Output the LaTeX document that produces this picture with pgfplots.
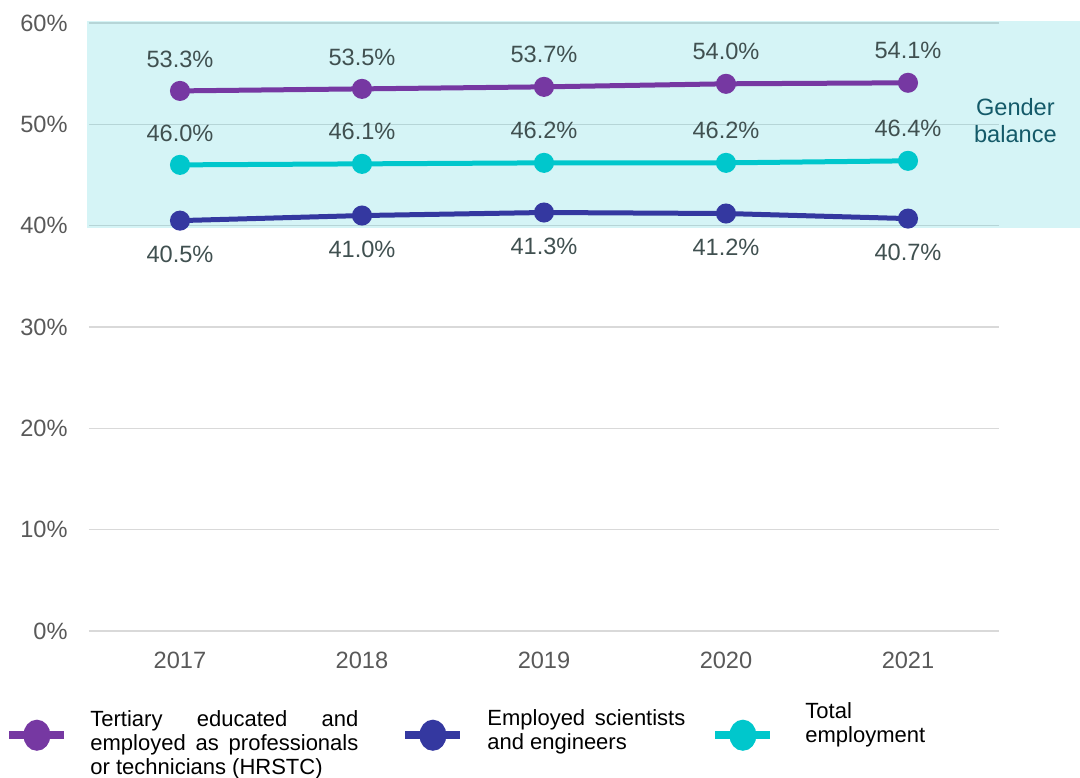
\documentclass[border=0pt]{standalone}
\usepackage{fontspec}
\setmainfont{Liberation Sans}
\usepackage{pgfplots}
\pgfplotsset{compat=1.18}
\definecolor{cPur}{RGB}{118,56,162}
\definecolor{cBlu}{RGB}{52,56,160}
\definecolor{cCya}{RGB}{0,199,204}
\definecolor{cShade}{RGB}{45,200,210}
\definecolor{cGrid}{RGB}{217,217,217}
\definecolor{cTick}{RGB}{89,89,89}
\definecolor{cLab}{RGB}{64,80,80}
\definecolor{cGB}{RGB}{20,90,105}
\begin{document}
\begin{tikzpicture}
\useasboundingbox (-44.5pt,-73pt) rectangle (495.5pt,315.5pt);
\begin{axis}[
  at={(0pt,0pt)}, anchor=south west,
  scale only axis, width=455pt, height=304pt,
  xmin=-0.5, xmax=4.5, ymin=0, ymax=60,
  clip=false,
  axis line style={draw=none},
  major tick length=0pt,
  ymajorgrids, grid style={cGrid, line width=0.75pt},
  xtick={0,1,2,3,4}, xticklabels={2017,2018,2019,2020,2021},
  ytick={0,10,20,30,40,50,60},
  yticklabel={\pgfmathprintnumber{\tick}\%},
  /pgf/number format/assume math mode=true,
  tick label style={font=\fontsize{11.8}{14}\selectfont, text=cTick},
  xticklabel style={anchor=center, yshift=-14.5pt},
  yticklabel style={anchor=east, inner sep=0pt, xshift=-10.5pt},
  nodes near coords={\pgfmathprintnumber[fixed,fixed zerofill,precision=1]{\pgfplotspointmeta}\%},
  every node near coord/.append style={font=\fontsize{11.8}{14}\selectfont, text=cLab, anchor=center},
  every axis plot/.append style={line width=2.5pt, mark=*, mark size=3.75pt},
  legend columns=3,
  legend cell align=left,
  legend image code/.code={%
    \draw[#1, line width=4pt] (0pt,0pt) -- (27.5pt,0pt);
    \fill[#1] (13.75pt,0pt) ellipse [x radius=5.5pt, y radius=6.5pt];},
  legend style={at={(-0.0923,-0.1595)}, anchor=west, draw=none, fill=none,
    inner sep=0pt, font=\fontsize{11}{12}\selectfont,
    nodes={inner sep=0pt},
    /tikz/column 1/.style={column sep=11pt},
    /tikz/column 2/.style={column sep=21.5pt},
    /tikz/column 3/.style={column sep=11.5pt},
    /tikz/column 4/.style={column sep=13pt},
    /tikz/column 5/.style={column sep=15.5pt}},
]
\fill[cShade, opacity=0.2] (axis cs:-0.51,39.8) rectangle (axis cs:5.4,60.2);
\node[align=center, text=cGB, font=\fontsize{11.8}{13.5}\selectfont] at (axis cs:4.59,50.4) {Gender\\balance};

\addplot[color=cPur, every node near coord/.append style={yshift=16pt}] coordinates {(0,53.3) (1,53.5) (2,53.7) (3,54.0) (4,54.1)};
\addlegendentry[yshift=1.5pt]{\parbox[c]{134pt}{\hyphenpenalty=10000 Tertiary educated and employed as professionals or technicians (HRSTC)}}
\addplot[color=cBlu, every node near coord/.append style={yshift=-17pt}] coordinates {(0,40.5) (1,41.0) (2,41.3) (3,41.2) (4,40.7)};
\addlegendentry[yshift=5pt]{\parbox[c]{99pt}{\hyphenpenalty=10000 Employed scientists and engineers}}
\addplot[color=cCya, every node near coord/.append style={yshift=16pt}] coordinates {(0,46.0) (1,46.1) (2,46.2) (3,46.2) (4,46.4)};
\addlegendentry[yshift=8.75pt]{\parbox[c]{62pt}{\hyphenpenalty=10000 Total employment}}
\end{axis}
\end{tikzpicture}
\end{document}
